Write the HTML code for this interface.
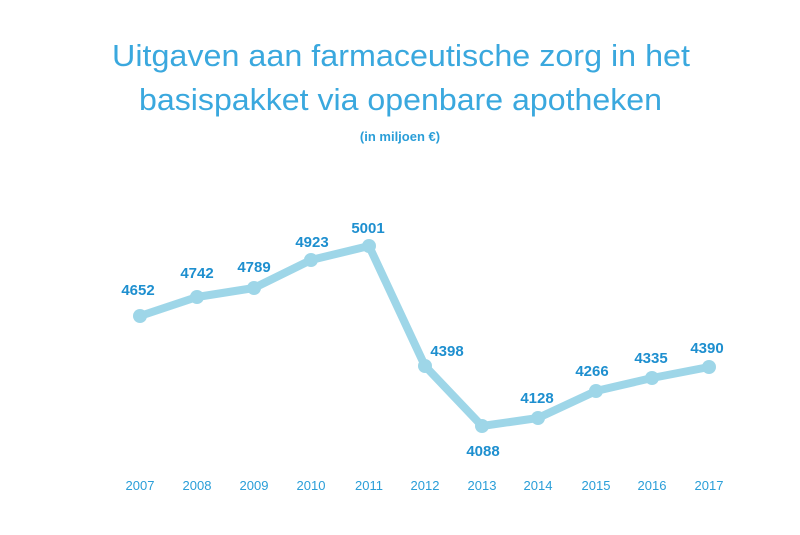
<!DOCTYPE html>
<html><head><meta charset="utf-8"><style>
body{margin:0;background:#fff;width:800px;height:530px;overflow:hidden}
svg text{font-family:"Liberation Sans",sans-serif}
</style></head><body>
<svg width="800" height="530" viewBox="0 0 800 530">
<text x="112" y="66" textLength="578" lengthAdjust="spacingAndGlyphs" font-size="31" fill="#3aa8de">Uitgaven aan farmaceutische zorg in het</text>
<text x="139" y="110" textLength="523" lengthAdjust="spacingAndGlyphs" font-size="31" fill="#3aa8de">basispakket via openbare apotheken</text>
<text x="400" y="141" text-anchor="middle" font-size="13" font-weight="bold" fill="#2a9ed8">(in miljoen €)</text>
<polyline fill="none" stroke="#9ed6e8" stroke-width="8" stroke-linejoin="round" stroke-linecap="round" points="140,316 197,297 254,288 311,260 369,246 425,366 482,426 538,418 596,391 652,378 709,367"/>
<g fill="#9ed6e8">
<circle cx="140" cy="316" r="7"/><circle cx="197" cy="297" r="7"/><circle cx="254" cy="288" r="7"/><circle cx="311" cy="260" r="7"/><circle cx="369" cy="246" r="7"/><circle cx="425" cy="366" r="7"/><circle cx="482" cy="426" r="7"/><circle cx="538" cy="418" r="7"/><circle cx="596" cy="391" r="7"/><circle cx="652" cy="378" r="7"/><circle cx="709" cy="367" r="7"/>
</g>
<g font-size="15" font-weight="bold" fill="#1e8fcf" text-anchor="middle">
<text x="138" y="295">4652</text><text x="197" y="278">4742</text><text x="254" y="272">4789</text><text x="312" y="247">4923</text><text x="368" y="233">5001</text><text x="447" y="356">4398</text><text x="483" y="456">4088</text><text x="537" y="403">4128</text><text x="592" y="376">4266</text><text x="651" y="363">4335</text><text x="707" y="353">4390</text>
</g>
<g font-size="13" fill="#2a9ed8" text-anchor="middle">
<text x="140" y="490">2007</text><text x="197" y="490">2008</text><text x="254" y="490">2009</text><text x="311" y="490">2010</text><text x="369" y="490">2011</text><text x="425" y="490">2012</text><text x="482" y="490">2013</text><text x="538" y="490">2014</text><text x="596" y="490">2015</text><text x="652" y="490">2016</text><text x="709" y="490">2017</text>
</g>
</svg>
</body></html>
